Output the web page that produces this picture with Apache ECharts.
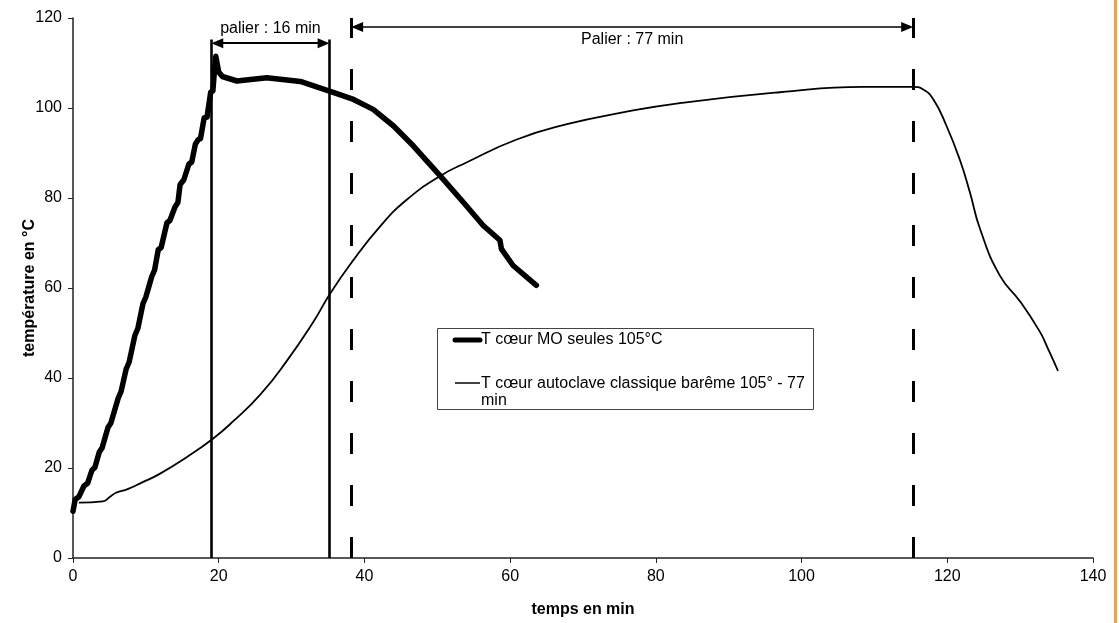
<!DOCTYPE html>
<html>
<head>
<meta charset="utf-8">
<title>Températures à cœur</title>
<script src="https://cdn.jsdelivr.net/npm/echarts@6/dist/echarts.min.js"></script>
<style>
  html, body { margin: 0; padding: 0; background: #fff; }
  #chart { width: 1119px; height: 623px; }
</style>
</head>
<body>
<div id="chart"></div>
<script>
// T cœur MO seules 105°C (trait épais)
var moTime = [0, 0.3, 0.8, 1.5, 2.0, 2.6, 3.0, 3.6, 4.0, 4.8, 5.2, 6.2, 6.6, 7.3, 7.7, 8.5, 8.9,
  9.6, 10.0, 10.8, 11.2, 11.7, 12.1, 12.9, 13.3, 14.0, 14.4, 14.7, 15.2, 15.9, 16.3, 16.8, 17.2,
  17.5, 18.0, 18.4, 18.9, 19.2, 19.4, 19.6, 20.0, 20.5, 22.5, 26.6, 31.2, 35.3, 38.5, 41.2, 44.0,
  46.7, 50.4, 53.6, 56.3, 58.6, 58.8, 60.4, 63.6];
var moTemp = [10.4, 13.0, 13.6, 16.0, 16.6, 19.5, 20.1, 23.5, 24.5, 29.0, 30.0, 35.5, 37.0, 42.0,
  43.5, 49.5, 51.0, 56.5, 58.0, 62.5, 64.0, 68.5, 69.0, 74.5, 75.0, 78.0, 79.0, 83.0, 84.0, 87.5,
  88.0, 92.0, 93.0, 93.2, 97.8, 98.0, 103.5, 103.8, 108.0, 111.5, 108.0, 107.0, 106.0, 106.7,
  105.9, 103.7, 101.9, 99.7, 96.0, 91.6, 84.9, 79.0, 73.9, 70.6, 68.7, 65.0, 60.6];

// T cœur autoclave classique barême 105° - 77 min (trait fin)
var autoTime = [0.8, 4.1, 5.0, 5.9, 7.5, 9.5, 11.9, 15.6, 19.2, 22.0, 25.7, 29.3, 33.0, 35.3, 38.3,
  42.1, 45.8, 50.4, 54.0, 60.9, 67.8, 75.1, 83.3, 97.0, 108.5, 115.3, 116.7, 118.1, 119.9, 121.7,
  123.1, 124.5, 127.2, 130.0, 132.7, 133.8, 135.2];
var autoTemp = [12.3, 12.6, 13.5, 14.5, 15.3, 16.8, 18.7, 22.4, 26.5, 30.4, 36.3, 43.7, 52.5, 58.8,
  65.8, 73.6, 79.6, 84.9, 87.9, 93.0, 96.4, 98.9, 101.1, 103.5, 104.7, 104.7, 104.1, 101.9, 96.0,
  88.6, 81.3, 73.1, 62.8, 57.0, 50.3, 46.6, 41.6];

// repères des paliers (min)
var palier16 = [19, 35.2];
var palier77 = [38.2, 115.3];
var palierLabels = ["palier : 16 min", "Palier : 77 min"];

function zip(xs, ys) {
  return xs.map(function (x, i) { return [x, ys[i]]; });
}

var font = "Liberation Sans, Arial, sans-serif";
var arrowSize = [10, 12];
var half = 0.8; // demi-flèche en minutes

// traits tiretés du palier 77 min
var longDash = { color: "#000", width: 3, type: [21, 31], dashOffset: 0 };

function vLine(x, top, style) {
  return [{ coord: [x, 0], lineStyle: style }, { coord: [x, top] }];
}

var chart = echarts.init(document.getElementById("chart"));
chart.setOption({
  animation: false,
  backgroundColor: "#fff",
  textStyle: { fontFamily: font },
  grid: { left: 73, right: 26, top: 18, bottom: 62 },
  xAxis: {
    type: "value",
    min: 0,
    max: 140,
    interval: 20,
    name: "temps en min",
    nameLocation: "middle",
    nameGap: 44,
    nameTextStyle: { fontSize: 16, fontWeight: "bold", color: "#000" },
    axisLine: { lineStyle: { color: "#222", width: 1.5 } },
    axisTick: { show: true, length: 5, lineStyle: { color: "#222" } },
    axisLabel: { fontSize: 16, color: "#000", margin: 11 },
    splitLine: { show: false }
  },
  yAxis: {
    type: "value",
    min: 0,
    max: 120,
    interval: 20,
    name: "température en °C",
    nameLocation: "middle",
    nameGap: 35,
    nameMoveOverlap: false,
    nameTextStyle: { fontSize: 16, fontWeight: "bold", color: "#000" },
    axisLine: { show: true, lineStyle: { color: "#222", width: 1.5 } },
    axisTick: { show: true, length: 5, lineStyle: { color: "#222" } },
    axisLabel: { fontSize: 16, color: "#000", margin: 11 },
    splitLine: { show: false }
  },
  series: [
    {
      name: "T cœur MO seules 105°C",
      type: "line",
      data: zip(moTime, moTemp),
      showSymbol: false,
      symbol: "none",
      smooth: false,
      lineStyle: { color: "#000", width: 5.5, cap: "round", join: "round" },
      z: 3
    },
    {
      name: "T cœur autoclave classique barême 105° - 77 min",
      type: "line",
      data: zip(autoTime, autoTemp),
      showSymbol: false,
      symbol: "none",
      smooth: 0.5,
      lineStyle: { color: "#000", width: 1.8 },
      z: 2,
      markLine: {
        silent: true,
        symbol: ["none", "none"],
        label: { show: false },
        data: [
          // traits pleins du palier 16 min
          vLine(palier16[0], 115.2, { color: "#000", width: 2.6, type: "solid" }),
          vLine(palier16[1], 115.2, { color: "#000", width: 2.6, type: "solid" }),
          [{ coord: [palier16[0] + half, 114.4], symbol: "triangle", symbolSize: arrowSize,
             lineStyle: { color: "#000", width: 2, type: "solid" },
             label: { show: true, formatter: palierLabels[0], position: "insideMiddleTop",
                      distance: 7, fontSize: 16, color: "#000", fontFamily: font } },
           { coord: [palier16[1] - half, 114.4], symbol: "triangle", symbolSize: arrowSize }],
          // traits tiretés du palier 77 min
          vLine(palier77[0], 120, longDash),
          vLine(palier77[1], 120, longDash),
          [{ coord: [palier77[0] + half, 118], symbol: "triangle", symbolSize: arrowSize,
             lineStyle: { color: "#000", width: 1.5, type: "solid" },
             label: { show: true, formatter: palierLabels[1], position: "insideMiddleBottom",
                      distance: 5, fontSize: 16, color: "#000", fontFamily: font } },
           { coord: [palier77[1] - half, 118], symbol: "triangle", symbolSize: arrowSize }]
        ]
      }
    }
  ],
  graphic: [
    // légende encadrée
    { type: "rect", left: 437, top: 328, shape: { width: 376, height: 81 },
      style: { fill: "#fff", stroke: "#444", lineWidth: 1 }, z: 10 },
    { type: "line", shape: { x1: 455, y1: 340, x2: 480, y2: 340 },
      style: { stroke: "#000", lineWidth: 5, lineCap: "round" }, z: 11 },
    { type: "text", left: 481, top: 332,
      style: { text: "T cœur MO seules 105°C", fontSize: 16, fontFamily: font, fill: "#000" }, z: 11 },
    { type: "line", shape: { x1: 455, y1: 383, x2: 480, y2: 383 },
      style: { stroke: "#000", lineWidth: 1.5 }, z: 11 },
    { type: "text", left: 481, top: 375,
      style: { text: "T cœur autoclave classique barême 105° - 77\nmin", fontSize: 16,
               lineHeight: 17, fontFamily: font, fill: "#000" }, z: 11 },
    // liseré orange à droite
    { type: "rect", left: 1114, top: 0, shape: { width: 3, height: 623 },
      style: { fill: "#F2A23F" }, z: 12 }
  ]
});
</script>
</body>
</html>
